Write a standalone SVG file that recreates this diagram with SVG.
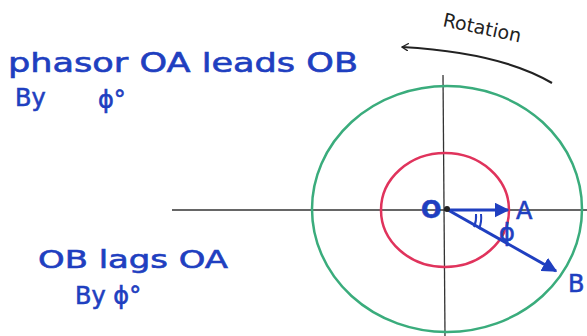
<svg xmlns="http://www.w3.org/2000/svg" width="587" height="336" viewBox="0 0 587 336">
<defs>
<style>
.hw{font-family:"DejaVu Sans",sans-serif;fill:#1f3fc0;stroke:#1f3fc0;stroke-width:0.6}
.axis{stroke:#333;stroke-width:1.3;fill:none}
.ph{stroke:#1f3fc0;stroke-width:3;fill:none}
</style>
<marker id="ah" viewBox="0 0 10 10" refX="9" refY="5" markerWidth="5" markerHeight="5" orient="auto"><path d="M0,0 L10,5 L0,10 Z" fill="#1f3fc0"/></marker>
<marker id="rah" viewBox="0 0 12 12" refX="10" refY="6" markerWidth="8" markerHeight="8" orient="auto" markerUnits="userSpaceOnUse"><path d="M0,0 L10,6 L0,12" fill="none" stroke="#222" stroke-width="2"/></marker>
</defs>
<rect width="587" height="336" fill="#fff"/>
<g id="labels">
<text class="hw" x="8" y="72" font-size="26" textLength="350" lengthAdjust="spacingAndGlyphs">phasor OA leads OB</text>
<text class="hw" x="15" y="106" font-size="24">By</text>
<text class="hw" x="98" y="108" font-size="24">ϕ°</text>
<text class="hw" x="38" y="268" font-size="24" textLength="190" lengthAdjust="spacingAndGlyphs">OB lags OA</text>
<text class="hw" x="75" y="304" font-size="24">By ϕ°</text>
</g>
<g id="axes">
<line class="axis" x1="172" y1="210" x2="587" y2="210"/>
<line class="axis" x1="443" y1="75" x2="445" y2="336" stroke-width="0.8"/>
</g>
<g id="circles">
<ellipse cx="447" cy="209" rx="135" ry="123" fill="none" stroke="#3aac7c" stroke-width="2.5"/>
<ellipse cx="445" cy="210" rx="64" ry="57" fill="none" stroke="#e0335c" stroke-width="2.5"/>
</g>
<g id="rotation">
<text x="442" y="26" font-family="DejaVu Sans,sans-serif" font-size="19" fill="#222" transform="rotate(12 442 26)">Rotation</text>
<path d="M552,83 C530,70 490,52 402,47" fill="none" stroke="#222" stroke-width="2.2" marker-end="url(#rah)"/>
</g>
<g id="connectors">
<line class="ph" x1="448" y1="210" x2="508" y2="210" marker-end="url(#ah)"/>
<line class="ph" x1="448" y1="210" x2="556" y2="271" marker-end="url(#ah)"/>
<path d="M476,214 A26,26 0 0 1 474,227" fill="none" stroke="#1f3fc0" stroke-width="2"/>
<path d="M481,214 A30,30 0 0 1 479,229" fill="none" stroke="#1f3fc0" stroke-width="2"/>
</g>
<g id="point-O">
<circle cx="447" cy="209" r="3" fill="#222"/>
<text class="hw" x="421" y="218" font-size="24" font-weight="bold">O</text>
</g>
<g id="point-A"><text class="hw" x="516" y="219" font-size="24">A</text></g>
<g id="point-B"><text class="hw" x="568" y="292" font-size="24">B</text></g>
<g id="phi"><text class="hw" x="499" y="241" font-size="24">ϕ</text></g>
</svg>
